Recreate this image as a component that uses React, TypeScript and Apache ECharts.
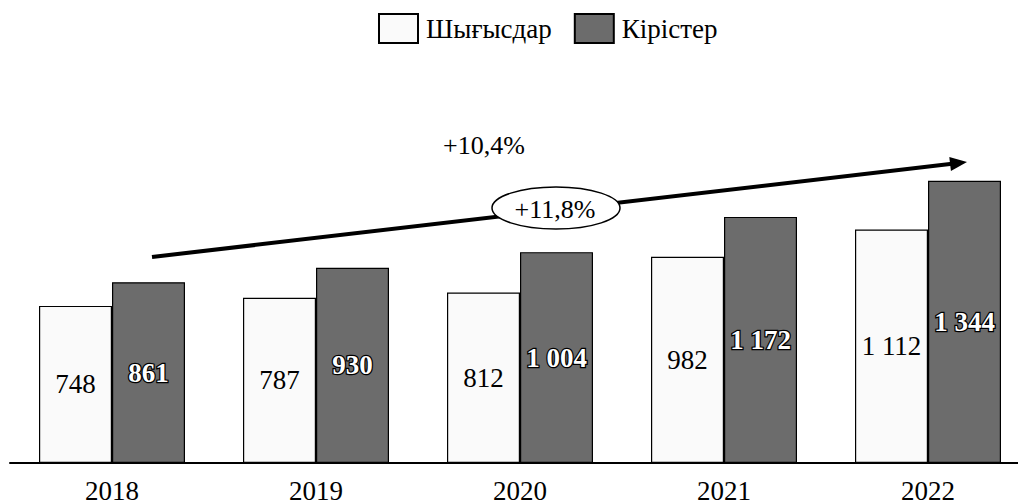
import React, { useEffect, useRef } from "react";
import * as echarts from "echarts";

const years = ["2018", "2019", "2020", "2021", "2022"];
const expenses = [748, 787, 812, 982, 1112];
const revenues = [861, 930, 1004, 1172, 1344];
const seriesNames = ["Шығысдар", "Кірістер"];
const growthOuter = "+10,4%";
const growthInner = "+11,8%";

const FONT = "'Liberation Serif', 'Times New Roman', serif";

function fmt(v: number): string {
  if (v >= 1000) {
    return `${Math.floor(v / 1000)} ${String(v % 1000).padStart(3, "0")}`;
  }
  return String(v);
}

export default function App() {
  const ref = useRef<HTMLDivElement>(null);

  useEffect(() => {
    if (!ref.current) return;
    const chart = echarts.init(ref.current, undefined, { renderer: "svg" });

    // arrow geometry
    const sx = 152, sy = 257, tx = 967, ty = 162;
    const dx = tx - sx, dy = ty - sy;
    const len = Math.sqrt(dx * dx + dy * dy);
    const ux = dx / len, uy = dy / len;
    const nx = -uy, ny = ux;
    const headLen = 17, headHalf = 7;
    const bx = tx - headLen * ux, by = ty - headLen * uy;

    chart.setOption({
      animation: false,
      backgroundColor: "#ffffff",
      textStyle: { fontFamily: FONT },
      legend: {
        left: 378,
        top: 13,
        padding: 0,
        icon: "rect",
        itemWidth: 39,
        itemHeight: 29,
        itemGap: 22,
        textStyle: {
          fontFamily: FONT,
          fontSize: 27,
          color: "#000",
          padding: [0, 0, 0, 3],
        },
        data: seriesNames,
      },
      grid: {
        left: 10,
        top: 43,
        width: 1020,
        height: 420,
        outerBoundsMode: "none",
        containLabel: false,
      },
      xAxis: {
        type: "category",
        data: years,
        axisLine: { lineStyle: { color: "#000", width: 2 } },
        axisTick: { show: false },
        axisLabel: {
          fontFamily: FONT,
          fontSize: 27,
          color: "#000",
          margin: 14,
        },
      },
      yAxis: { type: "value", min: 0, max: 2000, show: false },
      series: [
        {
          name: seriesNames[0],
          type: "bar",
          data: expenses,
          barWidth: 73,
          barGap: "0%",
          itemStyle: { color: "#fafafa", borderColor: "#000", borderWidth: 1.2 },
          label: {
            show: true,
            position: "inside",
            formatter: (p: any) => fmt(p.value),
            fontFamily: FONT,
            fontSize: 27,
            color: "#000",
          },
        },
        {
          name: seriesNames[1],
          type: "bar",
          data: revenues,
          barWidth: 73,
          barGap: "0%",
          itemStyle: { color: "#6c6c6c", borderColor: "#000", borderWidth: 1.2 },
          label: {
            show: true,
            position: "inside",
            formatter: (p: any) => fmt(p.value),
            fontFamily: FONT,
            fontSize: 27,
            fontWeight: "bold",
            color: "#fff",
            textBorderColor: "#000",
            textBorderWidth: 2.5,
          },
        },
      ],
      graphic: [
        {
          type: "line",
          z: 10,
          shape: { x1: sx, y1: sy, x2: bx + 2 * ux, y2: by + 2 * uy },
          style: { stroke: "#000", lineWidth: 4 },
        },
        {
          type: "polygon",
          z: 10,
          shape: {
            points: [
              [tx, ty],
              [bx + headHalf * nx, by + headHalf * ny],
              [bx - headHalf * nx, by - headHalf * ny],
            ],
          },
          style: { fill: "#000" },
        },
        {
          type: "ellipse",
          z: 11,
          shape: { cx: 556, cy: 208, rx: 64, ry: 21 },
          style: { fill: "#fff", stroke: "#000", lineWidth: 1.5 },
        },
        {
          type: "text",
          z: 12,
          x: 555,
          y: 209,
          style: {
            text: growthInner,
            fontFamily: FONT,
            fontSize: 26,
            fill: "#000",
            align: "center",
            verticalAlign: "middle",
          },
        },
        {
          type: "text",
          z: 12,
          x: 484,
          y: 145,
          style: {
            text: growthOuter,
            fontFamily: FONT,
            fontSize: 26,
            fill: "#000",
            align: "center",
            verticalAlign: "middle",
          },
        },
      ],
    });

    return () => chart.dispose();
  }, []);

  return (
    <div
      ref={ref}
      style={{ position: "absolute", left: 0, top: 0, width: 1018, height: 504, background: "#fff" }}
    />
  );
}
